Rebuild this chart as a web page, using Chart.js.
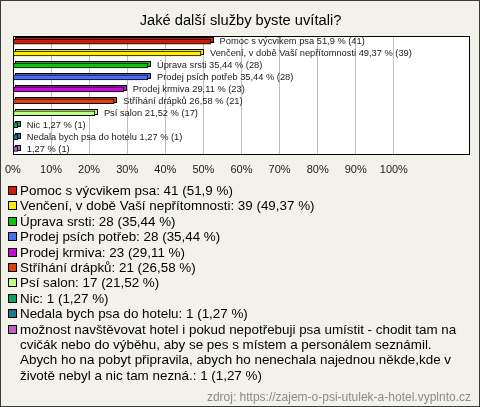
<!DOCTYPE html>
<html>
<head>
<meta charset="utf-8">
<script src="https://cdn.jsdelivr.net/npm/chart.js@4/dist/chart.umd.min.js"></script>
<style>
    html, body { margin: 0; padding: 0; }
    #frame {
        position: relative;
        width: 480px;
        height: 407px;
        box-sizing: border-box;
        border: 1px solid #3a3a3a;
        background: #f3f2ea;
        font-family: "Liberation Sans", Arial, sans-serif;
        overflow: hidden;
    }
    #chart-wrap { position: absolute; left: 0; top: 0; width: 478px; height: 184px; }
    #legend { position: absolute; left: 7px; top: 182px; width: 462px; font-size: 13.4px; line-height: 15.4px; color: #000; }
    .item { position: relative; padding-left: 12px; margin-bottom: 0; }
    .sw { position: absolute; left: 0; top: 3px; width: 7px; height: 7px; border: 1px solid #000; }
    #source { position: absolute; right: 8px; top: 389px; font-size: 12px; color: #8a8a8a; }
</style>
</head>
<body>
<div id="frame">
    <div id="chart-wrap"><canvas id="chart-services"></canvas></div>
    <div id="legend"></div>
    <div id="source"></div>
</div>
<script>
/**
 * Jaké další služby byste uvítali? - horizontal bar chart with 3D bars.
 */

const categories = [
    'Pomoc s výcvikem psa',
    'Venčení, v době Vaší nepřítomnosti',
    'Úprava srsti',
    'Prodej psích potřeb',
    'Prodej krmiva',
    'Stříhání drápků',
    'Psí salon',
    'Nic',
    'Nedala bych psa do hotelu',
    'možnost navštěvovat hotel i pokud nepotřebuji psa umístit - chodit tam na cvičák nebo do výběhu, aby se pes s místem a personálem seznámil. Abych ho na pobyt připravila, abych ho nenechala najednou někde,kde v životě nebyl a nic tam nezná.',
];
// the long free-text answer is shown without its name inside the chart
const barNames = [
    'Pomoc s výcvikem psa',
    'Venčení, v době Vaší nepřítomnosti',
    'Úprava srsti',
    'Prodej psích potřeb',
    'Prodej krmiva',
    'Stříhání drápků',
    'Psí salon',
    'Nic',
    'Nedala bych psa do hotelu',
    '',
];
const counts = [41, 39, 28, 28, 23, 21, 17, 1, 1, 1];
const percents = [51.9, 49.37, 35.44, 35.44, 29.11, 26.58, 21.52, 1.27, 1.27, 1.27];
const colors = ['#c8200c', '#ffee00', '#10c010', '#4870f0', '#c010d0', '#e04010', '#c0ff80', '#10a060', '#207890', '#c060c0'];

const titleText = 'Jaké další služby byste uvítali?';
const sourceText = 'zdroj: https://zajem-o-psi-utulek-a-hotel.vyplnto.cz';
const axisMax = 120;

const fmt = v => String(v).replace('.', ',');

let servicesChart = null;

const plotFrame = {
    id: 'plotFrame',
    beforeDraw(chart) {
        const a = chart.chartArea;
        const ctx = chart.ctx;
        ctx.save();
        ctx.fillStyle = '#ffffff';
        ctx.fillRect(a.left, a.top, a.right - a.left, a.bottom - a.top);
        ctx.restore();
    },
    afterDraw(chart) {
        const a = chart.chartArea;
        const ctx = chart.ctx;
        ctx.save();
        ctx.strokeStyle = '#000';
        ctx.lineWidth = 1;
        ctx.strokeRect(Math.round(a.left) + 0.5, Math.round(a.top) + 0.5,
            Math.round(a.right - a.left) - 1, Math.round(a.bottom - a.top) - 1);
        ctx.restore();
    },
};

// back face of each bar, shifted up/right, so the bars look 3D
const bar3d = {
    id: 'bar3d',
    beforeDatasetsDraw(chart) {
        const ctx = chart.ctx;
        const meta = chart.getDatasetMeta(0);
        const d = 2;
        ctx.save();
        meta.data.forEach((bar, i) => {
            const h = bar.height;
            const x0 = Math.round(bar.base) + 0.5 + d;
            const x1 = Math.round(bar.x) + 0.5 + d;
            const y0 = Math.round(bar.y - h / 2) + 0.5 - d;
            ctx.fillStyle = colors[i];
            ctx.strokeStyle = '#000';
            ctx.lineWidth = 1;
            ctx.fillRect(x0, y0, x1 - x0, h);
            ctx.strokeRect(x0, y0, x1 - x0, h);
        });
        ctx.restore();
    },
    afterDatasetsDraw(chart) {
        const ctx = chart.ctx;
        const meta = chart.getDatasetMeta(0);
        ctx.save();
        ctx.font = '9.3px "Liberation Sans", Arial, sans-serif';
        ctx.fillStyle = '#1a1a1a';
        ctx.textBaseline = 'middle';
        meta.data.forEach((bar, i) => {
            const name = barNames[i] ? barNames[i] + ' ' : '';
            ctx.fillText(name + fmt(percents[i]) + ' % (' + counts[i] + ')', bar.x + 9, bar.y);
        });
        ctx.restore();
    },
};

function renderServicesChart() {
    const canvas = document.getElementById('chart-services');

    servicesChart = new Chart(canvas, {
        type: 'bar',
        data: {
            labels: barNames,
            datasets: [{
                data: percents,
                backgroundColor: colors,
                borderColor: '#000',
                borderWidth: 1,
                borderSkipped: false,
                barThickness: 5,
            }],
        },
        options: {
            indexAxis: 'y',
            responsive: true,
            maintainAspectRatio: false,
            animation: false,
            layout: { padding: { left: 10, right: 9, top: 0, bottom: 0 } },
            plugins: {
                legend: { display: false },
                tooltip: { enabled: false },
                title: {
                    display: true,
                    text: titleText,
                    color: '#000',
                    font: { size: 14.7, family: '"Liberation Sans", Arial, sans-serif', weight: 'normal' },
                    padding: { top: 11, bottom: 6 },
                },
            },
            scales: {
                x: {
                    min: 0,
                    max: axisMax,
                    ticks: {
                        stepSize: 10,
                        color: '#1a1a1a',
                        padding: 4,
                        maxRotation: 0,
                        autoSkip: false,
                        font: { size: 11, lineHeight: 2, family: '"Liberation Sans", Arial, sans-serif' },
                        callback: v => (v <= 100 ? v + '%' : ''),
                    },
                    grid: {
                        drawTicks: false,
                        color: ctx => (ctx.tick && ctx.tick.value > 0 && ctx.tick.value <= 100 ? '#c0c0c0' : 'rgba(0,0,0,0)'),
                    },
                    border: { display: false },
                },
                y: {
                    display: false,
                    grid: { display: false },
                },
            },
        },
        plugins: [plotFrame, bar3d],
    });
}

function renderLegend() {
    const box = document.getElementById('legend');
    categories.forEach((name, i) => {
        const row = document.createElement('div');
        row.className = 'item';
        const sw = document.createElement('span');
        sw.className = 'sw';
        sw.style.background = colors[i];
        row.appendChild(sw);
        row.appendChild(document.createTextNode(name + ': ' + counts[i] + ' (' + fmt(percents[i]) + ' %)'));
        box.appendChild(row);
    });
    document.getElementById('source').textContent = sourceText;
}

renderServicesChart();
renderLegend();
</script>
</body>
</html>
